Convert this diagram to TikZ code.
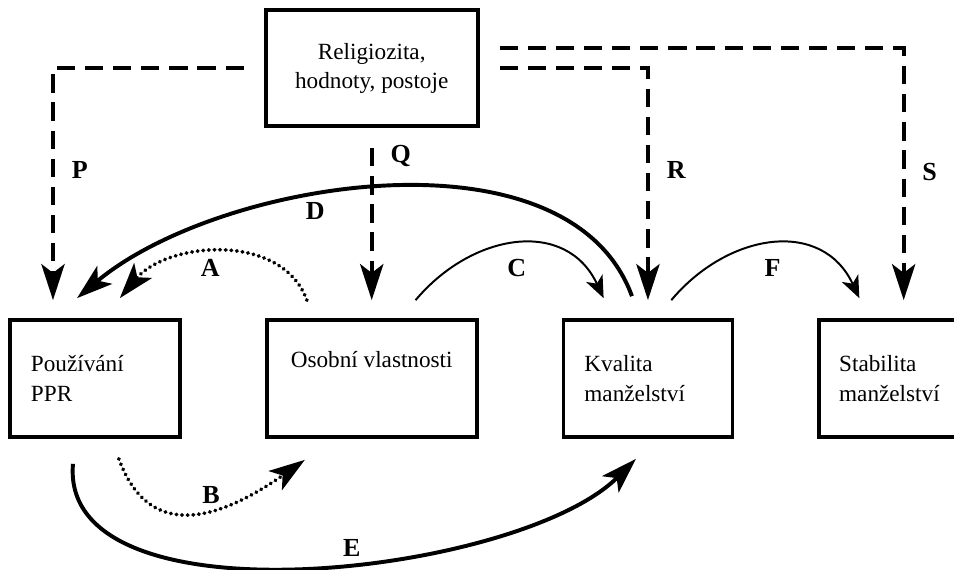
\documentclass[tikz,border=0pt]{standalone}
\usepackage{fontspec}
\setmainfont{Liberation Serif}
\usetikzlibrary{arrows.meta,positioning}

\begin{document}
\begin{tikzpicture}[x=0.025cm,y=-0.025cm,node distance=2.075cm,
  >={Stealth[length=0.9cm,width=0.58cm,inset=0.22cm]},
  box/.style={draw,line width=2.6pt,minimum height=2.925cm,inner xsep=0.525cm,
    font=\fontsize{16.5}{21}\selectfont},
  infl/.style={->,line width=3pt,dash pattern=on 13pt off 7pt,shorten <=0.5cm},
  strong/.style={->,line width=2.8pt},
  weak/.style={->,line width=2.8pt,line cap=round,dash pattern=on 0.2pt off 3.8pt},
  light/.style={-{Stealth[length=0.55cm,width=0.45cm,inset=0.15cm]},line width=1.4pt},
  lab/.style={font=\fontsize{18.5}{20}\selectfont\bfseries}]
  \useasboundingbox (0,0) rectangle (954,570);

  % boxes
  \node[box,text width=3.2cm,align=left] (ppr) at (95,378.5) {Používání\\PPR};
  \node[box,minimum width=5.25cm,align=center,right=of ppr] (osob) {Osobní vlastnosti\\\strut};
  \node[box,text width=3.175cm,align=left,right=of osob] (kval) {Kvalita\\manželství};
  \node[box,text width=2.625cm,inner xsep=0.5cm,align=left,right=of kval] (stab) {Stabilita\\manželství};
  \node[box,minimum width=5.3cm,minimum height=2.9cm,align=center,above=4.75cm of osob] (rel) {Religiozita,\\hodnoty, postoje};

  % dashed influences
  \draw[infl] (rel.west) -| node[lab,pos=0.72,right=0.3cm] (labP) {P} ([xshift=-1.05cm,yshift=0.45cm]ppr.north);
  \draw[infl] (rel.south -| osob.north) -- node[lab,pos=0.16,right=0.3cm] (labQ) {Q} ([yshift=0.45cm]osob.north);
  \draw[infl] (rel.east) -| node[lab,pos=0.72,right=0.3cm] (labR) {R} ([yshift=0.45cm]kval.north);
  \draw[infl] ([yshift=0.5cm]rel.east) -| node[lab,pos=0.745,right=0.3cm] (labS) {S} ([xshift=0.3cm,yshift=0.45cm]stab.north);

  % effects between the boxes
  \draw[weak] ([xshift=1.05cm,yshift=0.45cm]osob.north west) to[out=110,in=50]
    node[lab,pos=0.55,below] (labA) {A} ([xshift=-1.55cm,yshift=0.5cm]ppr.north east);
  \draw[weak] ([xshift=-1.575cm,yshift=-0.5cm]ppr.south east) to[out=-70,in=215,looseness=1.3]
    node[lab,pos=0.58,above] (labB) {B} ([xshift=1cm,yshift=-0.525cm]osob.south west);
  \draw[light] ([xshift=-1.575cm,yshift=0.45cm]osob.north east) to[out=50,in=115,looseness=1.2]
    node[lab,below=0.25cm] (labC) {C} ([xshift=1.05cm,yshift=0.5cm]kval.north west);
  \draw[strong] ([xshift=-0.4cm,yshift=0.55cm]kval.north) to[out=110,in=40,looseness=0.85]
    node[lab,pos=0.6,below] (labD) {D} ([xshift=-0.45cm,yshift=0.5cm]ppr.north);
  \draw[strong] ([xshift=-0.55cm,yshift=-0.625cm]ppr.south) to[out=-95,in=225,looseness=0.75]
    node[lab,pos=0.56,above] (labE) {E} ([xshift=-0.3cm,yshift=-0.5cm]kval.south);
  \draw[light] ([xshift=-1.575cm,yshift=0.45cm]kval.north east) to[out=50,in=115,looseness=1.2]
    node[lab,below=0.25cm] (labF) {F} ([xshift=1.05cm,yshift=0.5cm]stab.north west);
\end{tikzpicture}
\end{document}
